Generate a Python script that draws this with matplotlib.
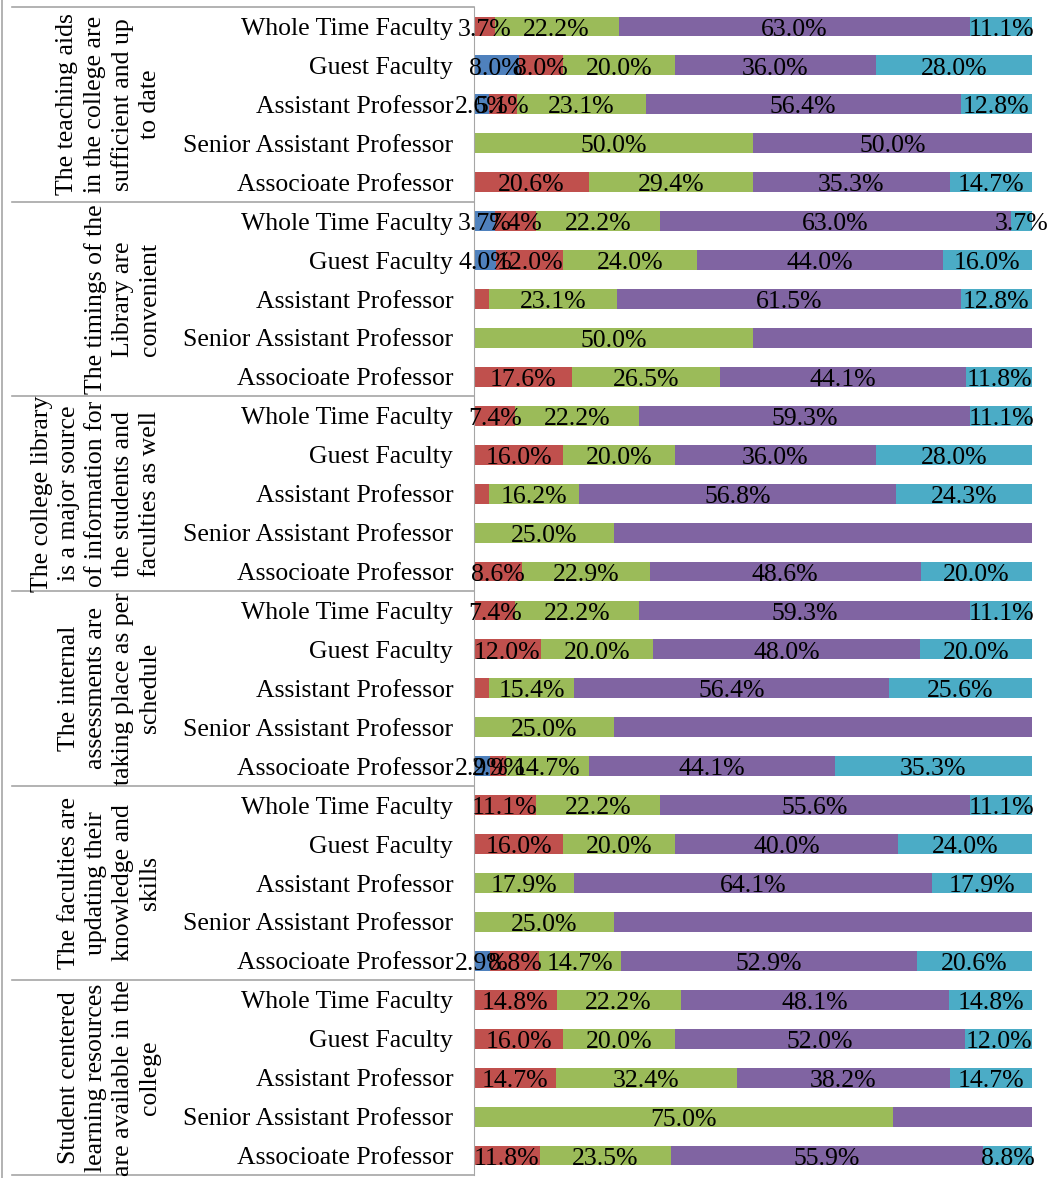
import numpy as np
import matplotlib
matplotlib.use("Agg")
import matplotlib.pyplot as plt
from matplotlib.transforms import blended_transform_factory
from matplotlib.lines import Line2D

plt.rcParams['font.family'] = ['Liberation Serif', 'DejaVu Serif']

questions = [
    "The teaching aids\nin the college are\nsufficient and up\nto date",
    "The timings of the\nLibrary are\nconvenient",
    "The college library\nis a major source\nof information for\nthe students and\nfaculties as well",
    "The internal\nassessments are\ntaking place as per\nschedule",
    "The faculties are\nupdating their\nknowledge and\nskills",
    "Student centered\nlearning resources\nare available in the\ncollege",
]
groups = ["Whole Time Faculty", "Guest Faculty", "Assistant Professor",
          "Senior Assistant Professor", "Associoate Professor"]

# one value per row, 6 questions x 5 faculty groups, top to bottom
blue = [0, 8.0, 2.6, 0, 0,
        3.7, 4.0, 0, 0, 0,
        0, 0, 0, 0, 0,
        0, 0, 0, 0, 2.9,
        0, 0, 0, 0, 2.9,
        0, 0, 0, 0, 0]
red = [3.7, 8.0, 5.1, 0, 20.6,
       7.4, 12.0, 2.6, 0, 17.6,
       7.4, 16.0, 2.7, 0, 8.6,
       7.4, 12.0, 2.6, 0, 2.9,
       11.1, 16.0, 0, 0, 8.8,
       14.8, 16.0, 14.7, 0, 11.8]
green = [22.2, 20.0, 23.1, 50.0, 29.4,
         22.2, 24.0, 23.1, 50.0, 26.5,
         22.2, 20.0, 16.2, 25.0, 22.9,
         22.2, 20.0, 15.4, 25.0, 14.7,
         22.2, 20.0, 17.9, 25.0, 14.7,
         22.2, 20.0, 32.4, 75.0, 23.5]
purple = [63.0, 36.0, 56.4, 50.0, 35.3,
          63.0, 44.0, 61.5, 50.0, 44.1,
          59.3, 36.0, 56.8, 75.0, 48.6,
          59.3, 48.0, 56.4, 75.0, 44.1,
          55.6, 40.0, 64.1, 75.0, 52.9,
          48.1, 52.0, 38.2, 25.0, 55.9]
cyan = [11.1, 28.0, 12.8, 0, 14.7,
        3.7, 16.0, 12.8, 0, 11.8,
        11.1, 28.0, 24.3, 0, 20.0,
        11.1, 20.0, 25.6, 0, 35.3,
        11.1, 24.0, 17.9, 0, 20.6,
        14.8, 12.0, 14.7, 0, 8.8]

# labels the original chart leaves out (row, series)
hidden = {(7, 1), (12, 1), (17, 1), (8, 3), (13, 3), (18, 3), (23, 3), (28, 3)}

series = [blue, red, green, purple, cyan]
colors = ['#4F81BD', '#C0504D', '#9BBB59', '#8064A2', '#4BACC6']

W, H = 1052, 1178
fig = plt.figure(figsize=(W / 100, H / 100), dpi=100)
ax = fig.add_axes([474 / W, 3 / H, 558 / W, 1168 / H])

vals = np.array(series, dtype=float)
shares = vals / vals.sum(axis=0) * 100
rows = np.arange(vals.shape[1])
left = np.zeros(len(rows))
fs = 18.5
for k in range(len(series)):
    ax.barh(rows, shares[k], left=left, height=0.51, color=colors[k], edgecolor='none')
    for r in rows:
        if vals[k, r] > 0 and (r, k) not in hidden:
            ax.text(left[r] + shares[k, r] / 2, r + 0.08, "%.1f%%" % vals[k, r],
                    ha='center', va='center', fontsize=fs, color='black', clip_on=False)
    left += shares[k]

ax.set_xlim(0, 100)
ax.set_ylim(len(rows) - 0.5, -0.5)
ax.set_xticks([])
ax.set_yticks(rows)
ax.set_yticklabels(groups * len(questions), fontsize=fs)
ax.tick_params(axis='y', length=0, pad=15)
for s in ['top', 'right', 'bottom']:
    ax.spines[s].set_visible(False)
ax.spines['left'].set_color('#A6A6A6')

tr = blended_transform_factory(fig.transFigure, ax.transData)
for g, q in enumerate(questions):
    ax.text(161 / W, g * 5 + 2, q, transform=tr, rotation=90, ha='right', va='center',
            multialignment='center', fontsize=fs, linespacing=1.3)
for g in range(len(questions) + 1):
    ax.add_line(Line2D([12 / W, 474 / W], [g * 5 - 0.5] * 2, transform=tr,
                       color='#A6A6A6', lw=1.2, clip_on=False))
fig.add_artist(Line2D([2 / W, 2 / W], [0, 1], color='#A6A6A6', lw=1.2))

fig.savefig("out.png", dpi=100)
